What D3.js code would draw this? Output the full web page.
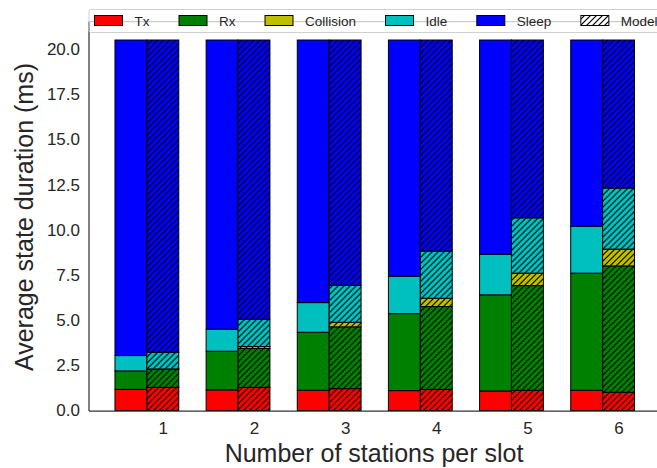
<!DOCTYPE html>
<html>
<head>
<meta charset="utf-8">
<script src="https://cdn.jsdelivr.net/npm/d3@7"></script>
<style>
  body { margin: 0; background: #fff; }
  text { font-family: "Liberation Sans", Arial, sans-serif; fill: #262626; }
</style>
</head>
<body>
<div id="chart"></div>
<script>
var stations = [1, 2, 3, 4, 5, 6];
var states = ["Tx", "Rx", "Collision", "Idle", "Sleep"];

// simulation (solid bars)
var simTx        = [1.17, 1.14, 1.12, 1.10, 1.08, 1.12];
var simRx        = [1.02, 2.14, 3.21, 4.26, 5.32, 6.48];
var simCollision = [0.00, 0.00, 0.00, 0.00, 0.00, 0.00];
var simIdle      = [0.85, 1.22, 1.64, 2.07, 2.25, 2.60];
var simSleep     = [17.46, 16.00, 14.53, 13.07, 11.85, 10.30];

// model (hatched bars)
var modelTx        = [1.28, 1.28, 1.21, 1.17, 1.12, 1.01];
var modelRx        = [1.00, 2.15, 3.42, 4.58, 5.79, 6.99];
var modelCollision = [0.02, 0.11, 0.25, 0.46, 0.69, 0.93];
var modelIdle      = [0.92, 1.51, 2.05, 2.61, 3.06, 3.38];
var modelSleep     = [17.28, 15.45, 13.57, 11.68, 9.84, 8.19];

var yTicks = [0, 2.5, 5, 7.5, 10, 12.5, 15, 17.5, 20];

var color = d3.scaleOrdinal()
  .domain(states)
  .range(["#ff0000", "#008000", "#bfbf00", "#00bfbf", "#0000ff"]);

var width = 657, height = 468;
var barW = 0.35;

/* Rows for stacking */
function rows(tx, rx, col, idle, sleep) {
  return stations.map(function(s, i) {
    return { station: s, Tx: tx[i], Rx: rx[i], Collision: col[i], Idle: idle[i], Sleep: sleep[i] };
  });
}
var stack = d3.stack().keys(states);
var simStack = stack(rows(simTx, simRx, simCollision, simIdle, simSleep));
var modelStack = stack(rows(modelTx, modelRx, modelCollision, modelIdle, modelSleep));

/* Scales */
var x = d3.scaleLinear().domain([0.19, 6.46]).range([89, 660.5]);
var y = d3.scaleLinear().domain([0, 21.525]).range([410.5, 21.5]);

var svg = d3.select("#chart").append("svg")
  .attr("width", width)
  .attr("height", height);

var defs = svg.append("defs");
defs.append("pattern")
  .attr("id", "hatch")
  .attr("patternUnits", "userSpaceOnUse")
  .attr("width", 6)
  .attr("height", 6)
  .append("path")
  .attr("d", "M-1,1 l2,-2 M0,6 l6,-6 M5,7 l2,-2")
  .attr("stroke", "#000")
  .attr("stroke-width", 1.2);

/* Bars */
function drawBars(data, offset, hatched) {
  var g = svg.append("g");
  data.forEach(function(layer) {
    layer.forEach(function(d) {
      if (d[1] - d[0] <= 0) return;
      var x0 = x(d.data.station + offset - barW / 2);
      var x1 = x(d.data.station + offset + barW / 2);
      var r = {
        x: x0, y: y(d[1]), w: x1 - x0, h: y(d[0]) - y(d[1])
      };
      g.append("rect")
        .attr("x", r.x).attr("y", r.y)
        .attr("width", r.w).attr("height", r.h)
        .attr("fill", color(layer.key));
      if (hatched) {
        g.append("rect")
          .attr("x", r.x).attr("y", r.y)
          .attr("width", r.w).attr("height", r.h)
          .attr("fill", "url(#hatch)");
      }
      g.append("rect")
        .attr("x", r.x).attr("y", r.y)
        .attr("width", r.w).attr("height", r.h)
        .attr("fill", "none")
        .attr("stroke", "#000")
        .attr("stroke-width", 1);
    });
  });
}
drawBars(simStack, -barW, false);
drawBars(modelStack, 0, true);

/* Axes */
var yAxis = d3.axisLeft(y)
  .tickValues(yTicks)
  .tickFormat(d3.format(".1f"))
  .tickSize(0)
  .tickPadding(9);
var xAxis = d3.axisBottom(x)
  .tickValues(stations)
  .tickFormat(d3.format("d"))
  .tickSize(0)
  .tickPadding(11);

svg.append("g")
  .attr("transform", "translate(89,0)")
  .call(yAxis)
  .call(function(g) { g.select(".domain").remove(); })
  .selectAll("text")
  .style("font-size", "17px")
  .attr("fill", "#262626");

svg.append("g")
  .attr("transform", "translate(0,411)")
  .call(xAxis)
  .call(function(g) { g.select(".domain").remove(); })
  .selectAll("text")
  .style("font-size", "17px")
  .attr("fill", "#262626");

/* Spines */
svg.append("line")
  .attr("x1", 89).attr("x2", 89)
  .attr("y1", 21.5).attr("y2", 411)
  .attr("stroke", "#333").attr("stroke-width", 1.25);
svg.append("line")
  .attr("x1", 89).attr("x2", width)
  .attr("y1", 411).attr("y2", 411)
  .attr("stroke", "#333").attr("stroke-width", 1.25);
svg.append("line")
  .attr("x1", 89).attr("x2", width)
  .attr("y1", 21.5).attr("y2", 21.5)
  .attr("stroke", "#cccccc").attr("stroke-width", 1.25);

/* Axis labels */
svg.append("text")
  .attr("transform", "translate(33,217) rotate(-90)")
  .attr("text-anchor", "middle")
  .style("font-size", "25px")
  .text("Average state duration (ms)");

svg.append("text")
  .attr("x", 374)
  .attr("y", 462)
  .attr("text-anchor", "middle")
  .style("font-size", "25px")
  .text("Number of stations per slot");

/* Legend */
var legend = svg.append("g");
legend.append("rect")
  .attr("x", 89).attr("y", 9.5)
  .attr("width", 620).attr("height", 23)
  .attr("rx", 2)
  .attr("fill", "none")
  .attr("stroke", "#d0d0d0")
  .attr("stroke-width", 1);

var items = states.concat(["Model"]);
var lx = 94.5;
items.forEach(function(name) {
  var isModel = name === "Model";
  legend.append("rect")
    .attr("x", lx).attr("y", 15.5)
    .attr("width", 28).attr("height", 10)
    .attr("fill", isModel ? "#fff" : color(name));
  if (isModel) {
    legend.append("rect")
      .attr("x", lx).attr("y", 15.5)
      .attr("width", 28).attr("height", 10)
      .attr("fill", "url(#hatch)");
  }
  legend.append("rect")
    .attr("x", lx).attr("y", 15.5)
    .attr("width", 28).attr("height", 10)
    .attr("fill", "none")
    .attr("stroke", "#000").attr("stroke-width", 1);
  var t = legend.append("text")
    .attr("x", lx + 40)
    .attr("y", 25.5)
    .style("font-size", "13.5px")
    .text(name);
  lx = lx + 40 + t.node().getComputedTextLength() + 29.5;
});
</script>
</body>
</html>
